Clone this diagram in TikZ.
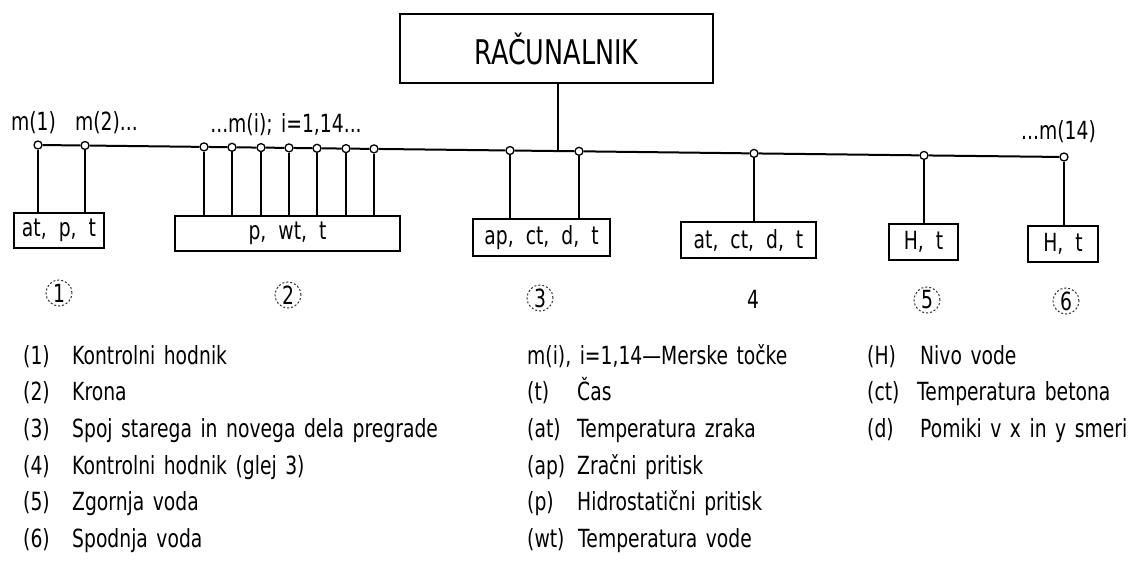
\documentclass[tikz,border=0pt]{standalone}
\usepackage{fontspec}
\setmainfont{DejaVu Sans}[FakeStretch=0.75]
\newcommand\cadleg{\fontsize{25}{29}\selectfont\spaceskip=8.5pt\relax}
\newcommand\cadbox{\fontsize{25}{29}\selectfont\spaceskip=12pt\relax}
\newcommand\cadtitle{\fontsize{34}{40}\selectfont}
\tikzset{
  ln/.style={line width=2pt},
  meas/.style={circle, draw, fill=white, line width=1.3pt, inner sep=0pt, minimum size=8pt},
  databox/.style={draw, line width=2pt, inner sep=0pt, font=\cadbox},
  toplbl/.style={inner sep=0pt, font=\cadleg},
  leg/.style={anchor=base west, inner sep=0pt, font=\cadleg},
  numlbl/.style={circle, inner sep=0pt, minimum size=26pt, font=\cadleg},
  numring/.style={numlbl, draw=black!80, line width=1pt, dash pattern=on 2pt off 2pt},
}
\begin{document}
\begin{tikzpicture}[x=1pt, y=-1pt]
\fill[white] (0,0) rectangle (1141,578);
\useasboundingbox (0,0) rectangle (1141,578);

% computer
\node[draw, ln, inner sep=0pt, minimum width=313pt, minimum height=69pt, font=\cadtitle] (comp) at (556.5,48.5) {RAČUNALNIK};

% measuring points along the bus
\node[meas] (c1)  at (38,145.0) {};
\node[meas] (c2)  at (85,145.5) {};
\node[meas] (c3)  at (204,146.9) {};
\node[meas] (c4)  at (232,147.3) {};
\node[meas] (c5)  at (261,147.6) {};
\node[meas] (c6)  at (289,147.9) {};
\node[meas] (c7)  at (317,148.3) {};
\node[meas] (c8)  at (346,148.6) {};
\node[meas] (c9)  at (374,148.9) {};
\node[meas] (c10) at (510,150.5) {};
\node[meas] (c11) at (579,151.3) {};
\node[meas] (c12) at (754,153.4) {};
\node[meas] (c13) at (924,155.4) {};
\node[meas] (c14) at (1064,157.0) {};
\coordinate (bj) at (558,151.1);

% bus and link to the computer
\draw[ln] (c1) -- (c2) -- (c3) -- (c4) -- (c5) -- (c6) -- (c7) -- (c8) -- (c9)
  -- (c10) -- (c11) -- (c12) -- (c13) -- (c14);
\draw[ln] (comp.south -| bj) -- (bj);

% point labels
\node[toplbl] (m1)  at (33.5,123) {m(1)};
\node[toplbl] (m2)  at (106.5,123) {m(2)...};
\node[toplbl] (mi)  at (286,125) {...m(i);  i=1,14...};
\node[toplbl] (m14) at (1058.5,132) {...m(14)};

% data boxes
\node[databox, minimum width=90pt,  minimum height=35pt] (b1) at (59,230.5)   {at, p, t};
\node[databox, minimum width=225pt, minimum height=35pt] (b2) at (287.5,233.5) {p, wt, t};
\node[databox, minimum width=137pt, minimum height=37pt] (b3) at (541.5,237.5) {ap, ct, d, t};
\node[databox, minimum width=135pt, minimum height=36pt] (b4) at (748.5,240)   {at, ct, d, t};
\node[databox, minimum width=69pt,  minimum height=36pt] (b5) at (923.5,242)   {H, t};
\node[databox, minimum width=70pt,  minimum height=36pt] (b6) at (1063,244)    {H, t};

% drops from the measuring points
\foreach \c/\b in {c1/b1, c2/b1, c3/b2, c4/b2, c5/b2, c6/b2, c7/b2, c8/b2, c9/b2,
                   c10/b3, c11/b3, c12/b4, c13/b5, c14/b6}
  \draw[ln] (\c) -- (\c |- \b.north);

% location numbers
\node[numring] (n1) at (59,293)   {1};
\node[numring] (n2) at (288,295)  {2};
\node[numring] (n3) at (540,298)  {3};
\node[numlbl]  (n4) at (753,299)  {4};
\node[numring] (n5) at (927,300)  {5};
\node[numring] (n6) at (1066,301) {6};

% legend, first column (baselines)
\node[leg] (k1) at (23,364) {(1)};  \node[leg] (t1) at (72,364) {Kontrolni hodnik};
\node[leg] (k2) at (23,400) {(2)};  \node[leg] (t2) at (72,400) {Krona};
\node[leg] (k3) at (23,437) {(3)};  \node[leg] (t3) at (72,437) {Spoj starega in novega dela pregrade};
\node[leg] (k4) at (23,474) {(4)};  \node[leg] (t4) at (72,474) {Kontrolni hodnik (glej 3)};
\node[leg] (k5) at (23,510) {(5)};  \node[leg] (t5) at (72,510) {Zgornja voda};
\node[leg] (k6) at (23,547) {(6)};  \node[leg] (t6) at (72,547) {Spodnja voda};

% legend, second column
\node[leg] (u0) at (527,364) {m(i), i=1,14—Merske točke};
\node[leg] (k7)  at (527,400) {(t)};  \node[leg] (t7)  at (577,400) {Čas};
\node[leg] (k8)  at (527,437) {(at)}; \node[leg] (t8)  at (577,437) {Temperatura zraka};
\node[leg] (k9)  at (527,474) {(ap)}; \node[leg] (t9)  at (577,474) {Zračni pritisk};
\node[leg] (k10) at (527,510) {(p)};  \node[leg] (t10) at (577,510) {Hidrostatični pritisk};
\node[leg] (k11) at (527,547) {(wt)}; \node[leg] (t11) at (578,547) {Temperatura vode};

% legend, third column
\node[leg] (k12) at (867,364) {(H)};  \node[leg] (t12) at (920,364) {Nivo vode};
\node[leg] (k13) at (867,400) {(ct)}; \node[leg] (t13) at (917,400) {Temperatura betona};
\node[leg] (k14) at (867,437) {(d)};  \node[leg] (t14) at (920,437) {Pomiki v x in y smeri};
\end{tikzpicture}
\end{document}
